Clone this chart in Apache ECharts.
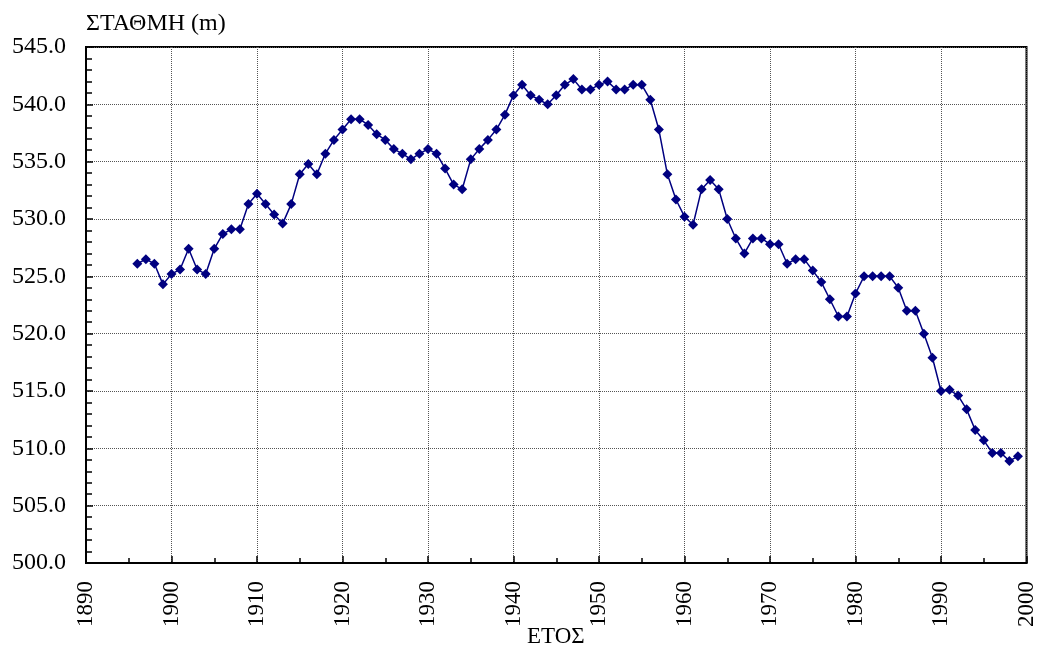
<!DOCTYPE html>
<html>
<head>
<meta charset="utf-8">
<title>ΣΤΑΘΜΗ</title>
<script src="https://cdn.jsdelivr.net/npm/echarts@6/dist/echarts.min.js"></script>
<style>
  html, body { margin: 0; padding: 0; background: #fff; }
  #chart { width: 1038px; height: 648px; }
</style>
</head>
<body>
<div id="chart"></div>
<script>
// Water level by year
const years = [
  1896, 1897, 1898, 1899, 1900, 1901, 1902, 1903, 1904, 1905,
  1906, 1907, 1908, 1909, 1910, 1911, 1912, 1913, 1914, 1915,
  1916, 1917, 1918, 1919, 1920, 1921, 1922, 1923, 1924, 1925,
  1926, 1927, 1928, 1929, 1930, 1931, 1932, 1933, 1934, 1935,
  1936, 1937, 1938, 1939, 1940, 1941, 1942, 1943, 1944, 1945,
  1946, 1947, 1948, 1949, 1950, 1951, 1952, 1953, 1954, 1955,
  1956, 1957, 1958, 1959, 1960, 1961, 1962, 1963, 1964, 1965,
  1966, 1967, 1968, 1969, 1970, 1971, 1972, 1973, 1974, 1975,
  1976, 1977, 1978, 1979, 1980, 1981, 1982, 1983, 1984, 1985,
  1986, 1987, 1988, 1989, 1990, 1991, 1992, 1993, 1994, 1995,
  1996, 1997, 1998, 1999
];
const levels = [
  526.1, 526.5, 526.1, 524.3, 525.2, 525.6, 527.4, 525.6, 525.2, 527.4,
  528.7, 529.1, 529.1, 531.3, 532.2, 531.3, 530.4, 529.6, 531.3, 533.9,
  534.8, 533.9, 535.7, 536.9, 537.8, 538.7, 538.7, 538.2, 537.4, 536.9,
  536.1, 535.7, 535.2, 535.7, 536.1, 535.7, 534.4, 533.0, 532.6, 535.2,
  536.1, 536.9, 537.8, 539.1, 540.8, 541.7, 540.8, 540.4, 540.0, 540.8,
  541.7, 542.2, 541.3, 541.3, 541.7, 542.0, 541.3, 541.3, 541.7, 541.7,
  540.4, 537.8, 533.9, 531.7, 530.2, 529.5, 532.6, 533.4, 532.6, 530.0,
  528.3, 527.0, 528.3, 528.3, 527.8, 527.8, 526.1, 526.5, 526.5, 525.5,
  524.5, 523.0, 521.5, 521.5, 523.5, 525.0, 525.0, 525.0, 525.0, 524.0,
  522.0, 522.0, 520.0, 517.9, 515.0, 515.1, 514.6, 513.4, 511.6, 510.7,
  509.6, 509.6, 508.9, 509.3
];

const yTitle = 'ΣΤΑΘΜΗ (m)';
const xTitle = 'ΕΤΟΣ';

const FONT = 'Liberation Serif';

const chart = echarts.init(document.getElementById('chart'), null, { renderer: 'canvas' });

chart.setOption({
  animation: false,
  backgroundColor: '#ffffff',
  textStyle: { fontFamily: FONT },
  grid: {
    left: 86, right: 8, top: 47, bottom: 85,
    show: true,
    borderColor: '#000',
    borderWidth: 2,
    backgroundColor: 'transparent'
  },
  graphic: [
    {
      type: 'text', left: 86, top: 12,
      style: { text: yTitle, fontFamily: FONT, fontSize: 24, fill: '#000' }
    },
    {
      type: 'text', left: 527, top: 625,
      style: { text: xTitle, fontFamily: FONT, fontSize: 23, fill: '#000' }
    }
  ],
  xAxis: {
    type: 'value',
    min: 1890, max: 2000, interval: 10,
    axisLine: { show: true, lineStyle: { color: '#000', width: 2 } },
    axisTick: { show: true, inside: true, length: 7, lineStyle: { color: '#000', width: 1.5 } },
    minorTick: { show: true, splitNumber: 2, length: 5, lineStyle: { color: '#000', width: 1.5 } },
    axisLabel: {
      rotate: 90, margin: 18,
      fontFamily: FONT, fontSize: 23, color: '#000',
      formatter: v => String(v)
    },
    splitLine: { show: true, lineStyle: { color: '#555', width: 1, type: 'dotted' } }
  },
  yAxis: {
    type: 'value',
    min: 500, max: 545, interval: 5,
    axisLine: { show: true, lineStyle: { color: '#000', width: 2 } },
    axisTick: { show: true, inside: true, length: 7, lineStyle: { color: '#000', width: 1.5 } },
    minorTick: { show: true, splitNumber: 5, length: 6, lineStyle: { color: '#000', width: 1.5 } },
    axisLabel: {
      margin: 20,
      fontFamily: FONT, fontSize: 24, color: '#000',
      formatter: v => v.toFixed(1)
    },
    splitLine: { show: true, lineStyle: { color: '#555', width: 1, type: 'dotted' } }
  },
  series: [{
    type: 'line',
    data: years.map((y, i) => [y, levels[i]]),
    symbol: 'diamond',
    symbolSize: 10,
    showAllSymbol: true,
    lineStyle: { color: '#000080', width: 1.5 },
    itemStyle: { color: '#000080', borderWidth: 0 },
    emphasis: { disabled: true }
  }]
});
</script>
</body>
</html>
